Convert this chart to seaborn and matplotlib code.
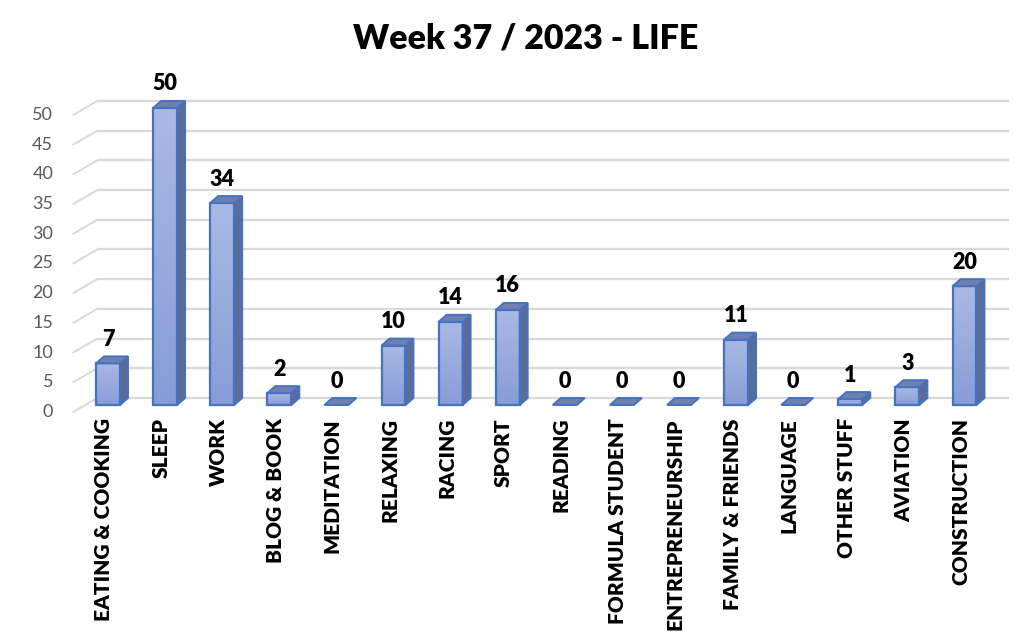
import numpy as np
import matplotlib
matplotlib.use("Agg")
import matplotlib.pyplot as plt
import seaborn as sns
from matplotlib.patches import Polygon
from matplotlib.colors import LinearSegmentedColormap

# data (hours per activity)
categories = ["EATING & COOKING", "SLEEP", "WORK", "BLOG & BOOK", "MEDITATION",
              "RELAXING", "RACING", "SPORT", "READING", "FORMULA STUDENT",
              "ENTREPRENEURSHIP", "FAMILY & FRIENDS", "LANGUAGE", "OTHER STUFF",
              "AVIATION", "CONSTRUCTION"]
hours = [7, 50, 34, 2, 0, 10, 14, 16, 0, 0, 0, 11, 0, 1, 3, 20]
y_ticks = [0, 5, 10, 15, 20, 25, 30, 35, 40, 45, 50]
title = "Week 37 / 2023 - LIFE"

sns.set_theme(style="white")
plt.rcParams['font.family'] = ['Lato', 'DejaVu Sans']

W, H = 1023, 638
fig = plt.figure(figsize=(W / 100, H / 100), dpi=100)

# pixel scale of the plot plane
px_cat = 57.1   # px per category
px_val = 5.94   # px per hour
xlim = (-0.40, 15.57)
ylim = (0, 52)
left_px = 108 + xlim[0] * px_cat
ax = fig.add_axes([left_px / W, (H - 405) / H,
                   (xlim[1] - xlim[0]) * px_cat / W, ylim[1] * px_val / H])
sx = 1 / px_cat
sy = 1 / px_val

edge = "#4472C4"
grid_c = "#D9D9D9"
side_c = "#5D6C94"
top_c = "#6F80AE"

# back wall grid + slanted floor lines
for v in y_ticks:
    yb = v + 7 * sy
    yf = v - 7 * sy
    ax.plot([xlim[0] + 12 * sx, xlim[1] + 12 * sx], [yb, yb], color=grid_c, lw=1.6,
            zorder=1, clip_on=False, solid_capstyle="butt")
    ax.plot([xlim[0] - 12 * sx, xlim[0] + 12 * sx], [yf, yb], color=grid_c, lw=1.4,
            zorder=1, clip_on=False)
    ax.text(xlim[0] - 32 * sx, yf, str(v), ha="right", va="center",
            fontsize=13, color="#595959")

sns.barplot(x=categories, y=hours, width=0.42, color="none", edgecolor=edge,
            linewidth=1.6, ax=ax, zorder=4)

grad_cmap = LinearSegmentedColormap.from_list("bar", ["#889CD6", "#AAB9E4"])
grad = np.linspace(0, 1, 64).reshape(-1, 1)
dx, dy = 8 * sx, 7 * sy
for i, p in enumerate(ax.patches):
    x0, w, h = p.get_x(), p.get_width(), p.get_height()
    x1 = x0 + w
    p.set_facecolor("none")
    p.set_clip_on(False)
    if h > 0:
        ax.imshow(grad, extent=[x0, x1, 0, h], origin="lower", cmap=grad_cmap,
                  aspect="auto", zorder=3, interpolation="bilinear")
        side = Polygon([(x1, 0), (x1 + dx, dy), (x1 + dx, h + dy), (x1, h)],
                       closed=True, facecolor=side_c, edgecolor=edge, lw=1.4,
                       zorder=3.5, clip_on=False)
        ax.add_patch(side)
    else:
        p.set_visible(False)
    top = Polygon([(x0, h), (x1, h), (x1 + dx, h + dy), (x0 + dx, h + dy)],
                  closed=True, facecolor=top_c, edgecolor=edge, lw=1.4,
                  zorder=5, clip_on=False)
    ax.add_patch(top)
    ax.text(x0 + w / 2, h + 24 * sy, f"{hours[i]}", ha="center", va="center",
            fontsize=15.5, fontweight="heavy", color="black")
    ax.text(i - 4 * sx, -13 * sy, categories[i], ha="center", va="top",
            rotation=90, fontsize=15, fontweight="heavy", color="black")

ax.set_xlim(*xlim)
ax.set_ylim(*ylim)
ax.set_xticks([])
ax.set_yticks([])
ax.set_xlabel("")
ax.set_ylabel("")
for s in ax.spines.values():
    s.set_visible(False)
ax.patch.set_alpha(0)

fig.text(526 / W, 1 - 38 / H, title, ha="center", va="center",
         fontsize=24.5, fontweight="heavy", color="black")

fig.savefig("out.png", dpi=100, facecolor="white")
